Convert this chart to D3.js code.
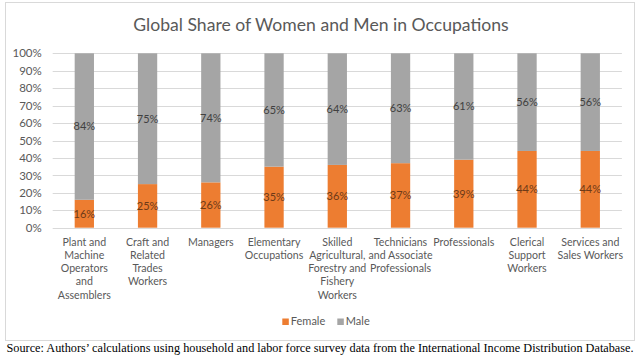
<!DOCTYPE html>
<html><head><meta charset="utf-8">
<script src="https://cdn.jsdelivr.net/npm/d3@7"></script>
<style>
html,body{margin:0;padding:0;background:#fff;}
svg{display:block;}
</style></head>
<body>
<script>
const categories = [
  ["Plant and","Machine","Operators","and","Assemblers"],
  ["Craft and","Related","Trades","Workers"],
  ["Managers"],
  ["Elementary","Occupations"],
  ["Skilled","Agricultural,","Forestry and","Fishery","Workers"],
  ["Technicians","and Associate","Professionals"],
  ["Professionals"],
  ["Clerical","Support","Workers"],
  ["Services and","Sales Workers"]
];
const female = [16, 25, 26, 35, 36, 37, 39, 44, 44];
const male   = [84, 75, 74, 65, 64, 63, 61, 56, 56];
const yTicks = [0,10,20,30,40,50,60,70,80,90,100];
const seriesNames = ["Female","Male"];
const colors = {Female:"#ED7D31", Male:"#A5A5A5"};
const title = "Global Share of Women and Men in Occupations";
const source = "Source: Authors\u2019 calculations using household and labor force survey data from the International Income Distribution Database.";

const W = 640, H = 355;
const font = "Lato, 'Open Sans', sans-serif";
const svg = d3.select("body").append("svg").attr("width", W).attr("height", H);

// chart frame
svg.append("rect").attr("x",5.5).attr("y",2.5).attr("width",629).attr("height",338)
  .attr("fill","#fff").attr("stroke","#D9D9D9").attr("stroke-width",1);

const x = d3.scaleBand().domain(d3.range(categories.length)).range([52.7, 621.9]).paddingInner(0.695).paddingOuter(0.3475);
const y = d3.scaleLinear().domain([0,100]).range([227.7, 53.3]);

// gridlines
svg.append("g").selectAll("line").data(yTicks).join("line")
  .attr("x1",52.7).attr("x2",621.9)
  .attr("y1",d=>Math.round(y(d))+0.5).attr("y2",d=>Math.round(y(d))+0.5)
  .attr("stroke","#D9D9D9").attr("stroke-width",1);

// y axis labels
const yAxis = d3.axisLeft(y).tickValues(yTicks).tickFormat(d=>d+"%").tickSize(0).tickPadding(11);
const gy = svg.append("g").attr("transform","translate(52.7,0)").call(yAxis);
gy.select(".domain").remove();
gy.selectAll("text").attr("font-family",font).attr("font-size",11.5).attr("fill","#595959");

// stacked data
const rows = categories.map((c,i)=>({i, Female:female[i], Male:male[i]}));
const stack = d3.stack().keys(seriesNames)(rows);

const g = svg.append("g");
stack.forEach(s=>{
  g.append("g").selectAll("rect").data(s).join("rect")
    .attr("x",(d,i)=>x(i)).attr("width",x.bandwidth())
    .attr("y",d=>y(d[1])).attr("height",d=>y(d[0])-y(d[1]))
    .attr("fill",colors[s.key]);
  g.append("g").selectAll("text").data(s).join("text")
    .attr("x",(d,i)=>x(i)+x.bandwidth()/2)
    .attr("y",d=>(y(d[0])+y(d[1]))/2)
    .attr("dy","0.35em").attr("text-anchor","middle")
    .attr("font-family",font).attr("font-size",11)
    .attr("fill", s.key==="Female" ? "#6E3A18" : "#404040")
    .text(d=>(d[1]-d[0])+"%");
});

// x axis category labels
const xl = svg.append("g");
categories.forEach((lines,i)=>{
  const t = xl.append("text").attr("text-anchor","middle")
    .attr("font-family",font).attr("font-size",10.6).attr("fill","#595959");
  lines.forEach((ln,k)=>{
    t.append("tspan").attr("x",x(i)+x.bandwidth()/2).attr("y",245.5+k*13.3).text(ln);
  });
});

// title
svg.append("text").attr("x",321).attr("y",31).attr("text-anchor","middle")
  .attr("font-family",font).attr("font-size",17.6).attr("fill","#595959").text(title);

// legend
const lg = svg.append("g");
const legendItems = [{k:"Female",x:282.3},{k:"Male",x:337.3}];
legendItems.forEach(it=>{
  lg.append("rect").attr("x",it.x).attr("y",318.5).attr("width",6.5).attr("height",6.5).attr("fill",colors[it.k]);
  lg.append("text").attr("x",it.x+8.5).attr("y",321.5).attr("dy","0.35em")
    .attr("font-family",font).attr("font-size",11).attr("fill","#595959").text(it.k);
});

// source (font size fitted to the reference's text width)
const st = svg.append("text").attr("x",6.5).attr("y",351.5)
  .attr("font-family","'Liberation Serif','Times New Roman',serif").attr("font-size",13).attr("fill","#000").text(source);
const len = st.node().getComputedTextLength();
st.attr("font-size", 13*628/len);
</script>
</body></html>
